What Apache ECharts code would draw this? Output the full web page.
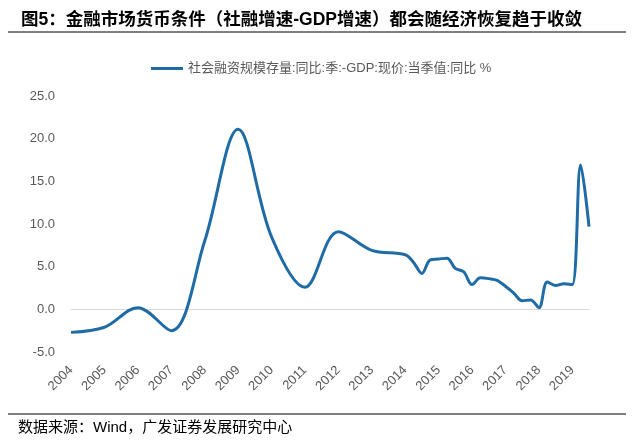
<!DOCTYPE html>
<html>
<head>
<meta charset="utf-8">
<script src="https://cdn.jsdelivr.net/npm/echarts@6/dist/echarts.min.js"></script>
<style>
  html, body { margin: 0; padding: 0; background: #fff; }
  #chart { width: 633px; height: 445px; }
</style>
</head>
<body>
<div id="chart"></div>
<script>
// 年度值（每年四季度），2004-2014
var annualYears = [2004, 2005, 2006, 2007, 2008, 2009, 2010, 2011, 2012, 2013, 2014];
var annualValues = [-2.7, -2.1, 0.2, -2.5, 8.0, 21.1, 8.5, 2.6, 9.1, 6.9, 6.4];

// 季度值，2015Q1-2020Q2
var quarterLabels = [
  '2015Q1', '2015Q2', '2015Q3', '2015Q4',
  '2016Q1', '2016Q2', '2016Q3', '2016Q4',
  '2017Q1', '2017Q2', '2017Q3', '2017Q4',
  '2018Q1', '2018Q2', '2018Q3', '2018Q4',
  '2019Q1', '2019Q2', '2019Q3', '2019Q4',
  '2020Q1', '2020Q2'
];
var quarterValues = [
  5.5, 4.2, 5.8, 5.9,
  6.0, 4.8, 4.4, 2.9,
  3.7, 3.6, 3.4, 2.7,
  1.9, 1.0, 1.1, 0.2,
  3.2, 2.8, 3.0, 2.9,
  16.9, 9.7
];

var yTicks = [-5, 0, 5, 10, 15, 20, 25];
var seriesName = '社会融资规模存量:同比:季:-GDP:现价:当季值:同比 %';
var titleText = '图5：金融市场货币条件（社融增速-GDP增速）都会随经济恢复趋于收敛';
var sourceText = '数据来源：Wind，广发证券发展研究中心';

// 类目轴：2004Q4 到 2020Q2 的各季度
var categories = [];
for (var y = 2004; y <= 2020; y++) {
  for (var q = 1; q <= 4; q++) {
    if (y === 2004 && q < 4) continue;
    if (y === 2020 && q > 2) continue;
    categories.push(y + 'Q' + q);
  }
}
var lookup = {};
annualYears.forEach(function (yr, i) { lookup[yr + 'Q4'] = annualValues[i]; });
quarterLabels.forEach(function (k, i) { lookup[k] = quarterValues[i]; });
var lineData = categories.map(function (c) {
  return lookup.hasOwnProperty(c) ? lookup[c] : null;
});

var FONT = 'Liberation Sans, Arial, Noto Sans CJK SC, sans-serif';
var chart = echarts.init(document.getElementById('chart'));
chart.setOption({
  animation: false,
  backgroundColor: '#fff',
  title: {
    text: titleText,
    left: 16,
    top: 6,
    textStyle: { fontFamily: FONT, fontSize: 17.5, fontWeight: 'bold', color: '#000' }
  },
  legend: {
    left: 146,
    top: 57,
    icon: 'rect',
    itemWidth: 32,
    itemHeight: 3,
    textStyle: { fontFamily: FONT, fontSize: 13, color: '#595959' },
    data: [seriesName]
  },
  graphic: [
    { type: 'line', shape: { x1: 8, y1: 32, x2: 626, y2: 32 }, style: { stroke: '#000', lineWidth: 1 } },
    { type: 'line', shape: { x1: 8, y1: 414, x2: 626, y2: 414 }, style: { stroke: '#000', lineWidth: 1 } },
    {
      type: 'text', left: 18, top: 420,
      style: { text: sourceText, font: '15px ' + FONT, fill: '#000' }
    }
  ],
  grid: { left: 71, right: 44, top: 96, bottom: 93 },
  xAxis: [
    {
      type: 'category',
      data: categories,
      boundaryGap: false,
      axisLine: { show: false, onZero: false },
      axisTick: { show: false },
      splitLine: { show: false },
      axisLabel: {
        interval: 3,
        rotate: 45,
        margin: 16,
        fontFamily: FONT,
        fontSize: 13,
        color: '#595959',
        formatter: function (v) { return v.slice(0, 4); }
      }
    },
    {
      // 0 值线
      type: 'category',
      data: categories,
      boundaryGap: false,
      position: 'bottom',
      axisLine: { show: true, onZero: true, lineStyle: { color: '#d9d9d9', width: 1 } },
      axisTick: { show: false },
      axisLabel: { show: false },
      splitLine: { show: false }
    }
  ],
  yAxis: {
    type: 'value',
    min: yTicks[0],
    max: yTicks[yTicks.length - 1],
    interval: 5,
    axisLine: { show: false },
    axisTick: { show: false },
    splitLine: { show: false },
    axisLabel: {
      margin: 16,
      fontFamily: FONT,
      fontSize: 13,
      color: '#595959',
      formatter: function (v) { return v.toFixed(1); }
    }
  },
  series: [{
    name: seriesName,
    type: 'line',
    data: lineData,
    connectNulls: true,
    smooth: 0.35,
    showSymbol: false,
    color: '#1F6BA6',
    lineStyle: { color: '#1F6BA6', width: 3 }
  }]
});
</script>
</body>
</html>
